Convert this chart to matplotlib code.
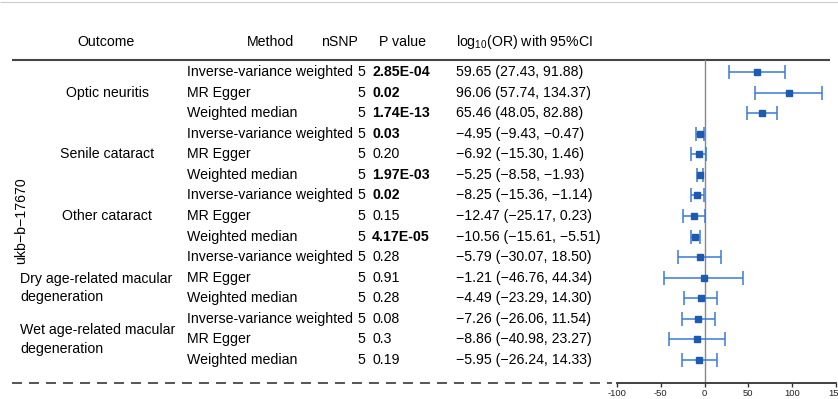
import matplotlib
matplotlib.use("Agg")
import matplotlib.pyplot as plt

plt.rcParams['font.family'] = ['Liberation Sans', 'DejaVu Sans']
plt.rcParams['mathtext.fontset'] = 'custom'
plt.rcParams['mathtext.rm'] = 'Liberation Sans'
plt.rcParams['mathtext.it'] = 'Liberation Sans'
plt.rcParams['axes.unicode_minus'] = False

# ---------------- data ----------------
exposure = "ukb\u2212b\u221217670"
outcomes = ["Optic neuritis", "Senile cataract", "Other cataract",
            "Dry age-related macular\ndegeneration",
            "Wet age-related macular\ndegeneration"]
methods = ["Inverse-variance weighted", "MR Egger", "Weighted median"]
nsnp = [5] * 15
pvals = ["2.85E-04", "0.02", "1.74E-13",
         "0.03", "0.20", "1.97E-03",
         "0.02", "0.15", "4.17E-05",
         "0.28", "0.91", "0.28",
         "0.08", "0.3", "0.19"]
p_bold = [True, True, True,
          True, False, True,
          True, False, True,
          False, False, False,
          False, False, False]
est = [59.65, 96.06, 65.46,
       -4.95, -6.92, -5.25,
       -8.25, -12.47, -10.56,
       -5.79, -1.21, -4.49,
       -7.26, -8.86, -5.95]
lo = [27.43, 57.74, 48.05,
      -9.43, -15.30, -8.58,
      -15.36, -25.17, -15.61,
      -30.07, -46.76, -23.29,
      -26.06, -40.98, -26.24]
hi = [91.88, 134.37, 82.88,
      -0.47, 1.46, -1.93,
      -1.14, 0.23, -5.51,
      18.50, 44.34, 14.30,
      11.54, 23.27, 14.33]
headers = ["Outcome", "Method", "nSNP", "P value", r"log$_{10}$(OR) with 95%CI"]
xticks = [-100, -50, 0, 50, 100, 150]

# ---------------- layout ----------------
W, H, DPI = 838, 399, 100
row0_px, row_step = 72.0, 20.57
def px2row(y):
    return (y - row0_px) / row_step

fig = plt.figure(figsize=(W / DPI, H / DPI), dpi=DPI)
bg = fig.add_axes([0, 0, 1, 1])
bg.set_xlim(0, W)
bg.set_ylim(px2row(H), px2row(0))
bg.axis('off')

fs = 10.2
n = len(est)
rows = list(range(n))

# top thin border line
bg.plot([0, W], [px2row(2), px2row(2)], color='#cccccc', lw=0.8, solid_capstyle='butt')

# headers
hy = px2row(42)
bg.text(106, hy, headers[0], ha='center', va='center', fontsize=fs)
bg.text(270, hy, headers[1], ha='center', va='center', fontsize=fs)
bg.text(339, hy, headers[2], ha='center', va='center', fontsize=fs)
bg.text(402, hy, headers[3], ha='center', va='center', fontsize=fs)
bg.text(456, hy, headers[4], ha='left', va='center', fontsize=fs)

# header underline
bg.plot([12, 830], [px2row(60), px2row(60)], color='#444444', lw=1.5, solid_capstyle='butt')

# bottom dashed line
lw_d = 1.4
bg.plot([12, 612], [px2row(383), px2row(383)], color='#555555', lw=lw_d,
        linestyle=(0, (10 / 1.389 / lw_d, 7 / 1.389 / lw_d)))

# exposure label
bg.text(21, 7.25, exposure, rotation=90, ha='center', va='center', fontsize=fs)

# outcomes
for k, o in enumerate(outcomes):
    if "\n" in o:
        l1, l2 = o.split("\n")
        yc = 3 * k + (1.5 if k == 3 else 1.0)
        bg.text(20, yc - 0.46, l1, ha='left', va='center', fontsize=fs)
        bg.text(20, yc + 0.46, l2, ha='left', va='center', fontsize=fs)
    else:
        bg.text(107, 3 * k + 1, o, ha='center', va='center', fontsize=fs)

def f(v):
    return f"{v:.2f}".replace("-", "\u2212")

# row texts
for i in rows:
    bg.text(187, i, methods[i % 3], ha='left', va='center', fontsize=fs)
    bg.text(361, i, str(nsnp[i]), ha='center', va='center', fontsize=fs)
    bg.text(372, i, pvals[i], ha='left', va='center', fontsize=fs,
            fontweight='bold' if p_bold[i] else 'normal')
    bg.text(456, i, f"{f(est[i])} ({f(lo[i])}, {f(hi[i])})",
            ha='left', va='center', fontsize=fs)

# ---------------- forest panel ----------------
left_px, right_px = 617, 836
top_px, bot_px = 60, 383
fa = fig.add_axes([left_px / W, 1 - bot_px / H,
                   (right_px - left_px) / W, (bot_px - top_px) / H])
fa.set_xlim(-100, 150)
fa.set_ylim(px2row(bot_px), px2row(top_px))
fa.patch.set_alpha(0)
for s in ['top', 'right', 'left']:
    fa.spines[s].set_visible(False)
fa.spines['bottom'].set_color('#333333')
fa.spines['bottom'].set_linewidth(1.3)
fa.set_yticks([])
fa.set_xticks(xticks)
fa.set_xticklabels([str(t) for t in xticks])
fa.tick_params(axis='x', labelsize=6.8, length=3, width=1, color='#333333',
               pad=1.5, labelcolor='#222222')
fa.axvline(0, color='#888888', lw=1.0, zorder=1)

xerr = [[e - l for e, l in zip(est, lo)], [h - e for e, h in zip(est, hi)]]
fa.errorbar(est, rows, xerr=xerr, fmt='none', ecolor='#3a7bd5',
            elinewidth=1.1, capsize=5, capthick=1.1, zorder=2)
fa.plot(est, rows, 's', color='#1e5aaf', markersize=5, zorder=3)

fig.savefig("out.png", dpi=DPI)
